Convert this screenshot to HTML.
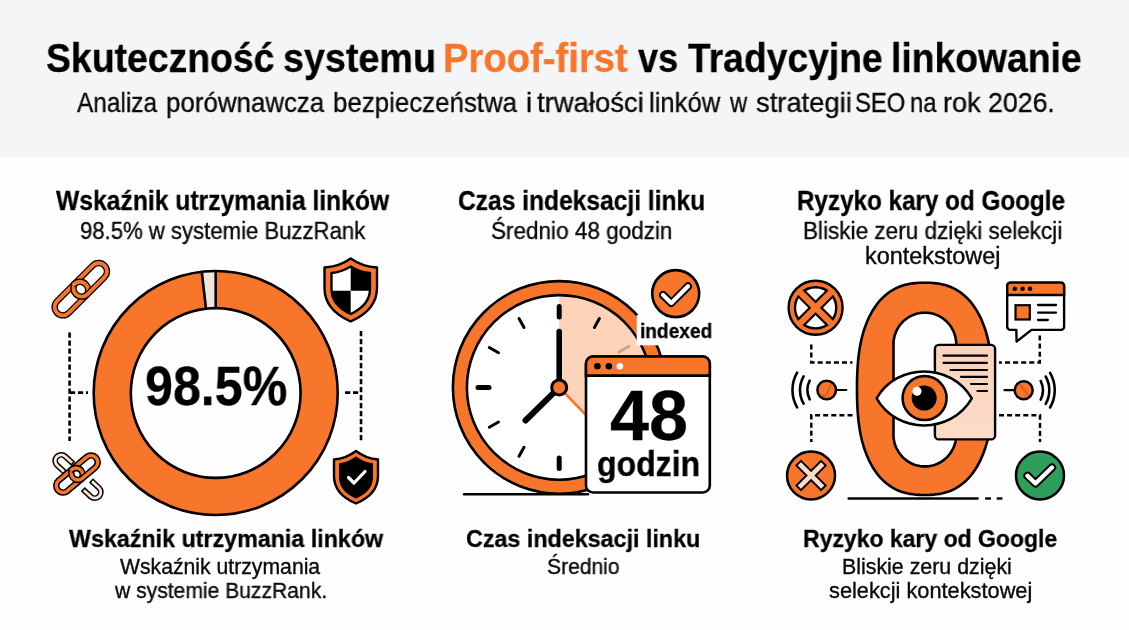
<!DOCTYPE html>
<html><head><meta charset="utf-8">
<style>
*{margin:0;padding:0;box-sizing:border-box}
html,body{width:1129px;height:630px;overflow:hidden;background:#fefefe;font-family:"Liberation Sans",sans-serif;color:#111}
.hdr{position:absolute;left:0;top:0;width:1129px;height:157px;background:#f4f5f7}
.t{position:absolute;white-space:nowrap;line-height:1;transform-origin:0 0;will-change:transform}
svg{position:absolute;left:0;top:0}
</style></head><body>
<div class="hdr"></div>
<svg width="1129" height="630" viewBox="0 0 1129 630">
<!-- ===== COLUMN 1 ===== -->
<g id="donut">
  <circle cx="215.7" cy="393" r="103.4" fill="none" stroke="#f8762b" stroke-width="39"/>
  <path d="M215.7,271.2 L215.7,310 L207.2,310.1 L202.5,272 Z" fill="#efe5dd"/>
  <circle cx="215.7" cy="393" r="122" fill="none" stroke="#000" stroke-width="2.6"/>
  <circle cx="215.7" cy="393" r="84.9" fill="none" stroke="#000" stroke-width="2.6"/>
  <line x1="215.7" y1="271" x2="215.7" y2="309" stroke="#000" stroke-width="2.6"/>
  <line x1="201.8" y1="272" x2="206" y2="309" stroke="#000" stroke-width="2.6"/>
</g>
<g stroke="#000" stroke-width="2.6" fill="none" stroke-dasharray="5.2 2.8">
  <line x1="69.6" y1="332.5" x2="69.6" y2="441"/>
  <line x1="70" y1="392.6" x2="88" y2="392.6"/>
  <line x1="361" y1="331" x2="361" y2="441"/>
  <line x1="345" y1="392.6" x2="361" y2="392.6"/>
</g>
<!-- link icon top-left -->
<defs><clipPath id="lkc"><rect x="-3" y="-20" width="20" height="20"/></clipPath><clipPath id="lkc2"><rect x="-3" y="-20" width="20" height="20"/></clipPath></defs>
<g transform="translate(80.8,289.2) rotate(-45)"><rect x="-33.6" y="-8.3" width="40.60" height="16.6" rx="8.3" fill="none" stroke="#000" stroke-width="6.4"/><rect x="-33.6" y="-8.3" width="40.60" height="16.6" rx="8.3" fill="none" stroke="#f8762b" stroke-width="3.9"/><rect x="-7" y="-8.3" width="40.60" height="16.6" rx="8.3" fill="none" stroke="#000" stroke-width="6.4"/><rect x="-7" y="-8.3" width="40.60" height="16.6" rx="8.3" fill="none" stroke="#f8762b" stroke-width="3.9"/><g clip-path="url(#lkc)"><rect x="-33.6" y="-8.3" width="40.60" height="16.6" rx="8.3" fill="none" stroke="#000" stroke-width="6.4"/><rect x="-33.6" y="-8.3" width="40.60" height="16.6" rx="8.3" fill="none" stroke="#f8762b" stroke-width="3.9"/></g></g>
<!-- broken link bottom-left -->
<g transform="translate(78,476.5) rotate(43)"><path d="M-15,-6 L-23,-6 A6,6 0 0 0 -23,6 L-15,6 M15,6 L23,6 A6,6 0 0 0 23,-6 L15,-6" fill="none" stroke="#000" stroke-width="5.8" stroke-linecap="square"/><path d="M-13.6,-6 L-23,-6 A6,6 0 0 0 -23,6 L-13.6,6 M13.6,6 L23,6 A6,6 0 0 0 23,-6 L13.6,-6" fill="none" stroke="#fbe6d8" stroke-width="2.8"/></g>
<g transform="translate(77,474) rotate(-40)"><rect x="-25" y="-6.75" width="30.50" height="13.5" rx="6.75" fill="none" stroke="#000" stroke-width="6.5"/><rect x="-25" y="-6.75" width="30.50" height="13.5" rx="6.75" fill="none" stroke="#f8762b" stroke-width="3.4"/><rect x="-5.5" y="-6.75" width="30.50" height="13.5" rx="6.75" fill="none" stroke="#000" stroke-width="6.5"/><rect x="-5.5" y="-6.75" width="30.50" height="13.5" rx="6.75" fill="none" stroke="#f8762b" stroke-width="3.4"/><g clip-path="url(#lkc2)"><rect x="-25" y="-6.75" width="30.50" height="13.5" rx="6.75" fill="none" stroke="#000" stroke-width="6.5"/><rect x="-25" y="-6.75" width="30.50" height="13.5" rx="6.75" fill="none" stroke="#f8762b" stroke-width="3.4"/></g></g>
<!-- shield top-right -->
<g>
  <path d="M350.7,258.5 C343,264 333,267 324.5,267.5 L324.5,288 C324.5,304 336,315 350.7,321.5 C365.4,315 377,304 377,288 L377,267.5 C368.4,267 358.4,264 350.7,258.5 Z" fill="#f8762b" stroke="#000" stroke-width="2.4" stroke-linejoin="round"/>
  <path d="M350.7,266.5 C345,270 338,272.5 331.5,273 L331.5,289 C331.5,301 340,309 350.7,314 C361.4,309 370,301 370,289 L370,273 C363.4,272.5 356.4,270 350.7,266.5 Z" fill="#fff" stroke="#000" stroke-width="2.4" stroke-linejoin="round"/>
  <path d="M350.7,266.5 C356.4,270 363.4,272.5 370,273 L370,290.7 L350.7,290.7 Z" fill="#000"/>
  <path d="M331.5,290.7 L350.7,290.7 L350.7,314 C340,309 331.5,301 331.5,290.7 Z" fill="#000"/>
</g>
<!-- shield bottom-right -->
<g>
  <path d="M356,451 C349.5,456 341,459 334,459.5 L334,476 C334,490 344,498.5 356,503.5 C368,498.5 378,490 378,476 L378,459.5 C371,459 362.5,456 356,451 Z" fill="#f8762b" stroke="#000" stroke-width="2.4" stroke-linejoin="round"/>
  <path d="M356,457.5 C351,461 345.5,463.5 340,464 L340,477 C340,487 347,493.5 356,497.5 C365,493.5 372,487 372,477 L372,464 C366.5,463.5 361,461 356,457.5 Z" fill="#000" stroke="#000" stroke-width="2" stroke-linejoin="round"/>
  <path d="M348.5,477.5 L354,483 L365,471.5" fill="none" stroke="#fff" stroke-width="3.2" stroke-linecap="round" stroke-linejoin="round"/>
</g>

<!-- ===== COLUMN 2: clock ===== -->
<g id="clock">
  <line x1="464" y1="494.3" x2="588" y2="494.3" stroke="#000" stroke-width="2.4" stroke-linecap="round"/>
  <circle cx="559.2" cy="387.4" r="99.4" fill="none" stroke="#f8762b" stroke-width="15"/>
  <circle cx="559.2" cy="387.4" r="91" fill="#fff"/>
  <path d="M559.2,387.4 L559.2,296.4 A91,91 0 0 1 624.7,450.6 Z" fill="#fdd3ba"/>
  <circle cx="559.2" cy="387.4" r="106.3" fill="none" stroke="#000" stroke-width="2.6"/>
  <circle cx="559.2" cy="387.4" r="92.3" fill="none" stroke="#000" stroke-width="2.6"/>
  <g stroke="#000" stroke-linecap="round">
    <line x1="559.2" y1="306.5" x2="559.2" y2="317" stroke-width="5"/>
    <line x1="559.2" y1="458" x2="559.2" y2="468.5" stroke-width="5"/>
    <line x1="478" y1="387.6" x2="489" y2="387.6" stroke-width="5"/>
    <line x1="519" y1="318.5" x2="524" y2="327.5" stroke-width="3"/>
    <line x1="489.3" y1="347.5" x2="498.5" y2="352.8" stroke-width="3"/>
    <line x1="489.3" y1="427.3" x2="498.5" y2="422" stroke-width="3"/>
    <line x1="519" y1="456.3" x2="524" y2="447.3" stroke-width="3"/>
    <line x1="599.4" y1="318.5" x2="594.4" y2="327.5" stroke-width="3"/>
  </g>
  <line x1="619" y1="352" x2="629" y2="346.3" stroke="#c9a590" stroke-width="3" stroke-linecap="round"/>
  <line x1="559.2" y1="387.4" x2="600" y2="429.5" stroke="#f8762b" stroke-width="2.6"/>
  <line x1="559.2" y1="387.4" x2="559.2" y2="331.5" stroke="#000" stroke-width="5.6" stroke-linecap="round"/>
  <line x1="559.2" y1="387.4" x2="525.5" y2="420.5" stroke="#000" stroke-width="6" stroke-linecap="round"/>
  <circle cx="559.2" cy="387.4" r="7.5" fill="#f8762b" stroke="#000" stroke-width="3"/>
  <rect x="636.7" y="315" width="80" height="30.3" fill="#fff"/>
  <!-- card -->
  <rect x="586" y="356.5" width="123.8" height="136" rx="7" fill="#fff" stroke="#000" stroke-width="2.6"/>
  <path d="M586,375.6 L586,363.5 A7,7 0 0 1 593,356.5 L702.8,356.5 A7,7 0 0 1 709.8,363.5 L709.8,375.6 Z" fill="#f8762b" stroke="#000" stroke-width="2.6"/>
  <circle cx="597.4" cy="366.3" r="3.3" fill="#000"/>
  <circle cx="608.8" cy="366.3" r="3.3" fill="#000"/>
  <circle cx="619.9" cy="366.3" r="3.3" fill="#fff"/>
  <!-- check badge -->
  <circle cx="675.7" cy="293.6" r="23.5" fill="#f8762b" stroke="#000" stroke-width="2.6"/>
  <path d="M663,295 L671.3,303 L688,286.3" fill="none" stroke="#000" stroke-width="8" stroke-linecap="round" stroke-linejoin="round"/>
  <path d="M663,295 L671.3,303 L688,286.3" fill="none" stroke="#fff" stroke-width="4.2" stroke-linecap="round" stroke-linejoin="round"/>
</g>

<!-- ===== COLUMN 3 ===== -->
<defs>
  <clipPath id="xc"><circle cx="815.6" cy="307.8" r="20.6"/></clipPath>
</defs>
<g stroke="#000" stroke-width="2.5" fill="none" stroke-dasharray="5 3.1">
  <path d="M811.3,344.5 L811.3,362.4 L852.5,362.4"/>
  <path d="M852.5,415.3 L811.3,415.3 L811.3,442"/>
  <path d="M1039.8,335.5 L1039.8,362.4 L999,362.4"/>
  <path d="M999,415.3 L1040,415.3 L1040,442"/>
</g>
<line x1="847.6" y1="498.5" x2="978.6" y2="498.5" stroke="#000" stroke-width="2.4"/>
<line x1="985.2" y1="498.5" x2="991" y2="498.5" stroke="#000" stroke-width="2.4"/>
<line x1="996.7" y1="498.5" x2="1002.4" y2="498.5" stroke="#000" stroke-width="2.4"/>
<!-- big zero -->
<path fill-rule="evenodd" fill="#f8762b" stroke="#000" stroke-width="2.6" stroke-linejoin="round" d="M992.4,388.9 L992.4,396.4 L992.2,402.1 L992.0,407.3 L991.7,412.2 L991.3,416.8 L990.9,421.2 L990.3,425.4 L989.7,429.5 L989.0,433.5 L988.2,437.3 L987.3,441.0 L986.3,444.5 L985.3,448.0 L984.1,451.3 L982.9,454.5 L981.6,457.6 L980.3,460.6 L978.8,463.4 L977.3,466.2 L975.7,468.8 L974.0,471.3 L972.3,473.7 L970.5,476.0 L968.6,478.1 L966.6,480.1 L964.6,482.0 L962.4,483.8 L960.2,485.4 L958.0,486.9 L955.6,488.3 L953.2,489.6 L950.7,490.7 L948.0,491.7 L945.3,492.6 L942.5,493.3 L939.6,493.9 L936.5,494.3 L933.2,494.7 L929.5,494.9 L924.7,495.0 L919.9,494.9 L916.2,494.7 L912.9,494.3 L909.8,493.9 L906.9,493.3 L904.1,492.6 L901.4,491.7 L898.7,490.7 L896.2,489.6 L893.8,488.3 L891.4,486.9 L889.2,485.4 L887.0,483.8 L884.8,482.0 L882.8,480.1 L880.8,478.1 L878.9,476.0 L877.1,473.7 L875.4,471.3 L873.7,468.8 L872.1,466.2 L870.6,463.4 L869.1,460.6 L867.8,457.6 L866.5,454.5 L865.3,451.3 L864.1,448.0 L863.1,444.5 L862.1,441.0 L861.2,437.3 L860.4,433.5 L859.7,429.5 L859.1,425.4 L858.5,421.2 L858.1,416.8 L857.7,412.2 L857.4,407.3 L857.2,402.1 L857.0,396.4 L857.0,388.9 L857.0,388.8 L857.0,381.3 L857.2,375.6 L857.4,370.4 L857.7,365.5 L858.1,360.9 L858.5,356.5 L859.1,352.3 L859.7,348.2 L860.4,344.2 L861.2,340.4 L862.1,336.7 L863.1,333.2 L864.1,329.7 L865.3,326.4 L866.5,323.2 L867.8,320.1 L869.1,317.1 L870.6,314.3 L872.1,311.5 L873.7,308.9 L875.4,306.4 L877.1,304.0 L878.9,301.7 L880.8,299.6 L882.8,297.6 L884.8,295.7 L887.0,293.9 L889.2,292.3 L891.4,290.8 L893.8,289.4 L896.2,288.1 L898.7,287.0 L901.4,286.0 L904.1,285.1 L906.9,284.4 L909.8,283.8 L912.9,283.4 L916.2,283.0 L919.9,282.8 L924.7,282.8 L929.5,282.8 L933.2,283.0 L936.5,283.4 L939.6,283.8 L942.5,284.4 L945.3,285.1 L948.0,286.0 L950.7,287.0 L953.2,288.1 L955.6,289.4 L958.0,290.8 L960.2,292.3 L962.4,293.9 L964.6,295.7 L966.6,297.6 L968.6,299.6 L970.5,301.7 L972.3,304.0 L974.0,306.4 L975.7,308.9 L977.3,311.5 L978.8,314.3 L980.3,317.1 L981.6,320.1 L982.9,323.2 L984.1,326.4 L985.3,329.7 L986.3,333.2 L987.3,336.7 L988.2,340.4 L989.0,344.2 L989.7,348.2 L990.3,352.3 L990.9,356.5 L991.3,360.9 L991.7,365.5 L992.0,370.4 L992.2,375.6 L992.4,381.3 L992.4,388.8 Z M956.2,434.6 L956.2,435.8 L956.2,437.1 L956.0,438.3 L955.9,439.5 L955.6,440.8 L955.4,442.0 L955.1,443.2 L954.7,444.4 L954.3,445.6 L953.9,446.8 L953.4,447.9 L952.8,449.0 L952.2,450.1 L951.6,451.2 L951.0,452.3 L950.3,453.3 L949.5,454.3 L948.7,455.3 L947.9,456.2 L947.1,457.1 L946.2,458.0 L945.2,458.8 L944.3,459.6 L943.3,460.4 L942.3,461.1 L941.3,461.7 L940.2,462.4 L939.1,463.0 L938.0,463.5 L936.9,464.0 L935.7,464.5 L934.6,464.9 L933.4,465.3 L932.2,465.6 L931.0,465.8 L929.8,466.1 L928.5,466.2 L927.3,466.4 L926.1,466.4 L924.9,466.4 L923.6,466.4 L922.4,466.4 L921.2,466.2 L919.9,466.1 L918.7,465.8 L917.5,465.6 L916.3,465.3 L915.1,464.9 L914.0,464.5 L912.8,464.0 L911.7,463.5 L910.6,463.0 L909.5,462.4 L908.4,461.7 L907.4,461.1 L906.4,460.4 L905.4,459.6 L904.5,458.8 L903.5,458.0 L902.6,457.1 L901.8,456.2 L901.0,455.3 L900.2,454.3 L899.4,453.3 L898.7,452.3 L898.1,451.2 L897.5,450.1 L896.9,449.0 L896.3,447.9 L895.8,446.8 L895.4,445.6 L895.0,444.4 L894.6,443.2 L894.3,442.0 L894.1,440.8 L893.8,439.5 L893.7,438.3 L893.5,437.1 L893.5,435.8 L893.5,434.6 L893.5,344.6 L893.5,343.3 L893.5,342.0 L893.7,340.8 L893.8,339.6 L894.1,338.3 L894.3,337.1 L894.6,335.9 L895.0,334.7 L895.4,333.5 L895.8,332.3 L896.3,331.2 L896.9,330.1 L897.5,329.0 L898.1,327.9 L898.7,326.8 L899.4,325.8 L900.2,324.8 L901.0,323.8 L901.8,322.9 L902.6,322.0 L903.5,321.1 L904.5,320.3 L905.4,319.5 L906.4,318.7 L907.4,318.0 L908.4,317.4 L909.5,316.7 L910.6,316.1 L911.7,315.6 L912.8,315.1 L914.0,314.6 L915.1,314.2 L916.3,313.8 L917.5,313.5 L918.7,313.3 L919.9,313.0 L921.2,312.9 L922.4,312.7 L923.6,312.7 L924.9,312.7 L926.1,312.7 L927.3,312.7 L928.5,312.9 L929.8,313.0 L931.0,313.3 L932.2,313.5 L933.4,313.8 L934.6,314.2 L935.7,314.6 L936.9,315.1 L938.0,315.6 L939.1,316.1 L940.2,316.7 L941.3,317.4 L942.3,318.0 L943.3,318.7 L944.3,319.5 L945.2,320.3 L946.2,321.1 L947.1,322.0 L947.9,322.9 L948.7,323.8 L949.5,324.8 L950.3,325.8 L951.0,326.8 L951.6,327.9 L952.2,329.0 L952.8,330.1 L953.4,331.2 L953.9,332.3 L954.3,333.5 L954.7,334.7 L955.1,335.9 L955.4,337.1 L955.6,338.3 L955.9,339.6 L956.0,340.8 L956.2,342.0 L956.2,343.3 L956.2,344.6 Z"/>
<!-- document -->
<defs><linearGradient id="dg" x1="0" y1="0" x2="0" y2="1"><stop offset="0" stop-color="#fbd2bb"/><stop offset="1" stop-color="#fcdcc9"/></linearGradient></defs>
<rect x="934.9" y="344.9" width="60.2" height="94.5" rx="4" fill="url(#dg)" stroke="#000" stroke-width="2.4"/>
<g stroke="#000" stroke-width="2.2" stroke-linecap="round">
  <line x1="943.5" y1="355.7" x2="987" y2="355.7"/>
  <line x1="943.5" y1="362.8" x2="987" y2="362.8"/>
  <line x1="950.5" y1="370" x2="987" y2="370"/>
  <line x1="961" y1="376.8" x2="987" y2="376.8"/>
  <line x1="971" y1="384" x2="987" y2="384"/>
  <line x1="977.5" y1="391" x2="987" y2="391"/>
</g>
<!-- eye -->
<path d="M876.6,398.4 C897,362.4 951,362.4 971.8,398.4 C951,434.4 897,434.4 876.6,398.4 Z" fill="#fff" stroke="#000" stroke-width="2.5" stroke-linejoin="round"/>
<circle cx="924.6" cy="398.1" r="22" fill="#f8762b" stroke="#000" stroke-width="2.5"/>
<circle cx="924.2" cy="398.1" r="12.5" fill="#000"/>
<circle cx="917" cy="391.2" r="4.5" fill="#fff"/>
<!-- crossed circle top-left -->
<circle cx="815.6" cy="307.8" r="27" fill="#f8762b" stroke="#000" stroke-width="2.4"/>
<circle cx="815.6" cy="307.8" r="20.6" fill="#fff" stroke="#000" stroke-width="2.4"/>
<g clip-path="url(#xc)" stroke="#000" stroke-width="10.4">
  <line x1="795" y1="287.2" x2="836.2" y2="328.4"/>
  <line x1="836.2" y1="287.2" x2="795" y2="328.4"/>
</g>
<g stroke="#f8762b" stroke-width="6.2">
  <line x1="800" y1="292.2" x2="831.2" y2="323.4"/>
  <line x1="831.2" y1="292.2" x2="800" y2="323.4"/>
</g>
<!-- signal left -->
<g fill="none" stroke="#000" stroke-width="2.6" stroke-linecap="round">
  <path d="M797.1,372.7 A34.6,34.6 0 0 0 797.1,407.3"/>
  <path d="M803.6,376.3 A27.8,27.8 0 0 0 803.6,403.7"/>
  <path d="M809.7,380.7 A20.7,20.7 0 0 0 809.7,399.3"/>
  <path d="M1043.3,372.9 A34.6,34.6 0 0 1 1043.3,407.5" transform="translate(6.8,0)"/>
  <path d="M1045.7,376.5 A27.8,27.8 0 0 1 1045.7,403.9"/>
  <path d="M1040.7,381 A20.7,20.7 0 0 1 1040.7,399.6"/>
</g>
<line x1="836" y1="390" x2="846.3" y2="390" stroke="#000" stroke-width="2.2" stroke-linecap="round"/>
<circle cx="826.7" cy="390" r="9.3" fill="#f8762b" stroke="#000" stroke-width="2.5"/>
<path d="M822.8,395 L825,397.5 L830.5,385" fill="none" stroke="#c95a1d" stroke-width="2" stroke-linecap="round" opacity="0.7"/>
<line x1="1004.5" y1="390.2" x2="1014" y2="390.2" stroke="#000" stroke-width="2.2" stroke-linecap="round"/>
<circle cx="1023.7" cy="390.2" r="9" fill="#f8762b" stroke="#000" stroke-width="2.5"/>
<line x1="1020" y1="384.5" x2="1028" y2="395" stroke="#c95a1d" stroke-width="2.2" stroke-linecap="round" opacity="0.7"/>
<!-- browser bubble -->
<path d="M1010.4,282.6 L1060.9,282.6 A3.2,3.2 0 0 1 1064.1,285.8 L1064.1,326.7 A3.2,3.2 0 0 1 1060.9,329.9 L1031.5,329.9 L1016.6,341.5 L1016.3,329.9 L1010.4,329.9 A3.2,3.2 0 0 1 1007.2,326.7 L1007.2,285.8 A3.2,3.2 0 0 1 1010.4,282.6 Z" fill="#fff" stroke="#000" stroke-width="2.4" stroke-linejoin="round"/>
<path d="M1007.2,295 L1007.2,285.8 A3.2,3.2 0 0 1 1010.4,282.6 L1060.9,282.6 A3.2,3.2 0 0 1 1064.1,285.8 L1064.1,295 Z" fill="#f8762b" stroke="#000" stroke-width="2.4" stroke-linejoin="round"/>
<circle cx="1014.8" cy="288.7" r="2.3" fill="#000"/>
<circle cx="1022.6" cy="288.7" r="2.3" fill="#000"/>
<circle cx="1030" cy="288.7" r="2.3" fill="#000"/>
<rect x="1015.5" y="305.2" width="14.3" height="14.3" fill="#f8762b" stroke="#000" stroke-width="2.2"/>
<g stroke="#000" stroke-width="2.3" stroke-linecap="round">
  <line x1="1038" y1="305" x2="1056" y2="305"/>
  <line x1="1038" y1="312.6" x2="1056" y2="312.6"/>
  <line x1="1038" y1="320" x2="1047.8" y2="320"/>
</g>
<!-- X circle bottom-left -->
<circle cx="811.05" cy="475.5" r="24" fill="#f8762b" stroke="#000" stroke-width="2.5"/>
<g stroke-linecap="square">
  <line x1="801" y1="465.5" x2="821.1" y2="485.5" stroke="#000" stroke-width="8.4"/>
  <line x1="821.1" y1="465.5" x2="801" y2="485.5" stroke="#000" stroke-width="8.4"/>
  <line x1="801" y1="465.5" x2="821.1" y2="485.5" stroke="#fbdcca" stroke-width="4.6"/>
  <line x1="821.1" y1="465.5" x2="801" y2="485.5" stroke="#fbdcca" stroke-width="4.6"/>
</g>
<!-- green check bottom-right -->
<circle cx="1040" cy="475.5" r="24" fill="#2f9e5a" stroke="#000" stroke-width="2.5"/>
<path d="M1027.5,475.8 L1035.5,483.5 L1052,467.5" fill="none" stroke="#000" stroke-width="8.2" stroke-linecap="round" stroke-linejoin="round"/>
<path d="M1027.5,475.8 L1035.5,483.5 L1052,467.5" fill="none" stroke="#fff" stroke-width="4.4" stroke-linecap="round" stroke-linejoin="round"/>


</svg>
<div class="t" id="tw0" style="left:46.29px;top:38px;font-size:41.400px;font-weight:bold;color:#000;transform:scaleX(0.9028);-webkit-text-stroke:0.3px currentColor">Skuteczność</div>
<div class="t" id="tw1" style="left:283.18px;top:38px;font-size:41.400px;font-weight:bold;color:#000;transform:scaleX(0.9110);-webkit-text-stroke:0.3px currentColor">systemu</div>
<div class="t" id="tw2" style="left:443.43px;top:38px;font-size:41.400px;font-weight:bold;color:#000;transform:scaleX(0.9228);-webkit-text-stroke:0.3px currentColor"><span style="color:#f8762b">Proof-first</span></div>
<div class="t" id="tw3" style="left:638.00px;top:38px;font-size:41.400px;font-weight:bold;color:#000;transform:scaleX(0.8727);-webkit-text-stroke:0.3px currentColor">vs</div>
<div class="t" id="tw4" style="left:688.00px;top:38px;font-size:41.400px;font-weight:bold;color:#000;transform:scaleX(0.9000);-webkit-text-stroke:0.3px currentColor">Tradycyjne</div>
<div class="t" id="tw5" style="left:891.40px;top:38px;font-size:41.400px;font-weight:bold;color:#000;transform:scaleX(0.9014);-webkit-text-stroke:0.3px currentColor">linkowanie</div>
<div class="t" id="sw0" style="left:76.80px;top:89px;font-size:27.800px;font-weight:normal;color:#0a0a0a;transform:scaleX(0.8780);-webkit-text-stroke:0.35px currentColor">Analiza</div>
<div class="t" id="sw1" style="left:165.64px;top:89px;font-size:27.800px;font-weight:normal;color:#0a0a0a;transform:scaleX(0.9310);-webkit-text-stroke:0.35px currentColor">porównawcza</div>
<div class="t" id="sw2" style="left:332.74px;top:89px;font-size:27.800px;font-weight:normal;color:#0a0a0a;transform:scaleX(0.9306);-webkit-text-stroke:0.35px currentColor">bezpieczeństwa</div>
<div class="t" id="sw3" style="left:525.59px;top:89px;font-size:27.800px;font-weight:normal;color:#0a0a0a;transform:scaleX(0.9873);-webkit-text-stroke:0.35px currentColor">i</div>
<div class="t" id="sw4" style="left:536.82px;top:89px;font-size:27.800px;font-weight:normal;color:#0a0a0a;transform:scaleX(0.9873);-webkit-text-stroke:0.35px currentColor">trwałości</div>
<div class="t" id="sw5" style="left:648.85px;top:89px;font-size:27.800px;font-weight:normal;color:#0a0a0a;transform:scaleX(0.9227);-webkit-text-stroke:0.35px currentColor">linków</div>
<div class="t" id="sw6" style="left:730.33px;top:89px;font-size:27.800px;font-weight:normal;color:#0a0a0a;transform:scaleX(0.8569);-webkit-text-stroke:0.35px currentColor">w</div>
<div class="t" id="sw7" style="left:756.02px;top:89px;font-size:27.800px;font-weight:normal;color:#0a0a0a;transform:scaleX(0.9842);-webkit-text-stroke:0.35px currentColor">strategii</div>
<div class="t" id="sw8" style="left:855.15px;top:89px;font-size:27.800px;font-weight:normal;color:#0a0a0a;transform:scaleX(0.8569);-webkit-text-stroke:0.35px currentColor">SEO</div>
<div class="t" id="sw9" style="left:909.66px;top:89px;font-size:27.800px;font-weight:normal;color:#0a0a0a;transform:scaleX(0.8569);-webkit-text-stroke:0.35px currentColor">na</div>
<div class="t" id="sw10" style="left:943.35px;top:89px;font-size:27.800px;font-weight:normal;color:#0a0a0a;transform:scaleX(0.9750);-webkit-text-stroke:0.35px currentColor">rok</div>
<div class="t" id="sw11" style="left:988.14px;top:89px;font-size:27.800px;font-weight:normal;color:#0a0a0a;transform:scaleX(0.9606);-webkit-text-stroke:0.35px currentColor">2026.</div>
<div class="t" id="h1" style="left:55.70px;top:188px;font-size:26.800px;font-weight:bold;color:#000;transform:scaleX(0.9207);-webkit-text-stroke:0.3px currentColor">Wskaźnik utrzymania linków</div>
<div class="t" id="s1" style="left:80.04px;top:220px;font-size:23.000px;font-weight:normal;color:#0a0a0a;transform:scaleX(0.9620);-webkit-text-stroke:0.35px currentColor">98.5% w systemie BuzzRank</div>
<div class="t" id="h2" style="left:458.08px;top:188px;font-size:26.800px;font-weight:bold;color:#000;transform:scaleX(0.9169);-webkit-text-stroke:0.3px currentColor">Czas indeksacji linku</div>
<div class="t" id="s2" style="left:490.92px;top:220px;font-size:23.000px;font-weight:normal;color:#0a0a0a;transform:scaleX(0.9787);-webkit-text-stroke:0.35px currentColor">Średnio 48 godzin</div>
<div class="t" id="h3" style="left:797.29px;top:188px;font-size:26.800px;font-weight:bold;color:#000;transform:scaleX(0.9041);-webkit-text-stroke:0.3px currentColor">Ryzyko kary od Google</div>
<div class="t" id="s3a" style="left:802.74px;top:220px;font-size:23.000px;font-weight:normal;color:#0a0a0a;transform:scaleX(0.9801);-webkit-text-stroke:0.35px currentColor">Bliskie zeru dzięki selekcji</div>
<div class="t" id="s3b" style="left:864.76px;top:245px;font-size:23.000px;font-weight:normal;color:#0a0a0a;transform:scaleX(1.0194);-webkit-text-stroke:0.35px currentColor">kontekstowej</div>
<div class="t" id="bh1" style="left:68.60px;top:527px;font-size:24.800px;font-weight:bold;color:#000;transform:scaleX(0.9382);-webkit-text-stroke:0.3px currentColor">Wskaźnik utrzymania linków</div>
<div class="t" id="bs1a" style="left:120.00px;top:556px;font-size:21.200px;font-weight:normal;color:#0a0a0a;transform:scaleX(1.0000);-webkit-text-stroke:0.35px currentColor">Wskaźnik utrzymania</div>
<div class="t" id="bs1b" style="left:115.00px;top:580px;font-size:21.200px;font-weight:normal;color:#0a0a0a;transform:scaleX(0.9953);-webkit-text-stroke:0.35px currentColor">w systemie BuzzRank.</div>
<div class="t" id="bh2" style="left:465.96px;top:527px;font-size:24.800px;font-weight:bold;color:#000;transform:scaleX(0.9393);-webkit-text-stroke:0.3px currentColor">Czas indeksacji linku</div>
<div class="t" id="bs2" style="left:546.81px;top:556px;font-size:21.200px;font-weight:normal;color:#0a0a0a;transform:scaleX(0.9930);-webkit-text-stroke:0.35px currentColor">Średnio</div>
<div class="t" id="bh3" style="left:803.15px;top:527px;font-size:24.800px;font-weight:bold;color:#000;transform:scaleX(0.9268);-webkit-text-stroke:0.3px currentColor">Ryzyko kary od Google</div>
<div class="t" id="bs3a" style="left:841.58px;top:556px;font-size:21.200px;font-weight:normal;color:#0a0a0a;transform:scaleX(1.0085);-webkit-text-stroke:0.35px currentColor">Bliskie zeru dzięki</div>
<div class="t" id="bs3b" style="left:828.97px;top:580px;font-size:21.200px;font-weight:normal;color:#0a0a0a;transform:scaleX(1.0276);-webkit-text-stroke:0.35px currentColor">selekcji kontekstowej</div>
<div class="t" id="pct" style="left:144.81px;top:358px;font-size:56.000px;font-weight:bold;color:#000;transform:scaleX(0.8961);-webkit-text-stroke:0.3px currentColor">98.5%</div>
<div class="t" id="n48" style="left:609.59px;top:382px;font-size:69.600px;font-weight:bold;color:#000;transform:scaleX(1.0081);-webkit-text-stroke:0.3px currentColor">48</div>
<div class="t" id="godz" style="left:597.47px;top:447px;font-size:34.300px;font-weight:bold;color:#000;transform:scaleX(0.9336);-webkit-text-stroke:0.3px currentColor">godzin</div>
<div class="t" id="idx" style="left:639.85px;top:321px;font-size:20.100px;font-weight:bold;color:#000;transform:scaleX(0.9514);-webkit-text-stroke:0.3px currentColor">indexed</div>
</body></html>
